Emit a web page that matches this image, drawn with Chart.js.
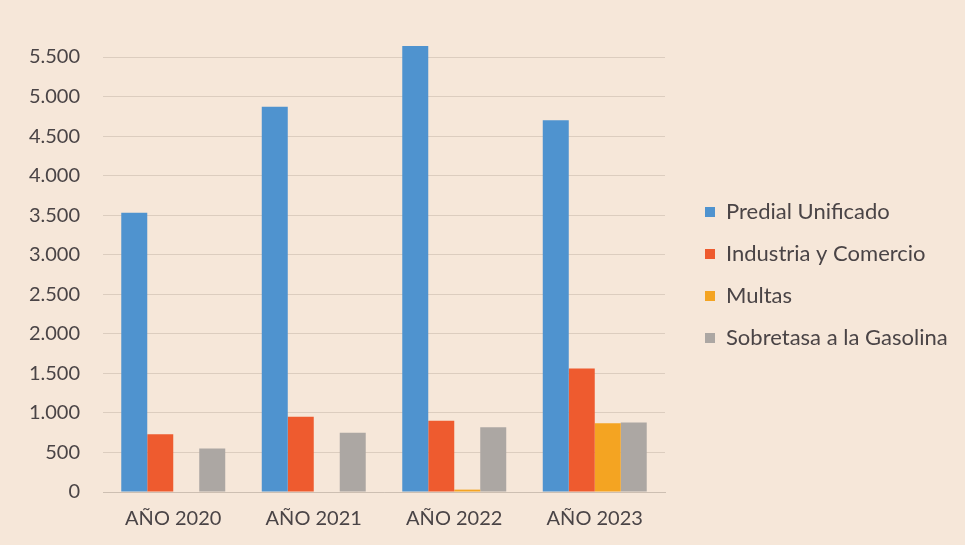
<!DOCTYPE html>
<html>
<head>
<meta charset="utf-8">
<script src="https://cdn.jsdelivr.net/npm/chart.js@4.4.1/dist/chart.umd.min.js"></script>
<style>
  html, body { margin: 0; padding: 0; background: #f6e7d9; }
  #wrap { width: 965px; height: 545px; }
</style>
</head>
<body>
<div id="wrap"><canvas id="chart-recaudo" width="965" height="545"></canvas></div>
<script>
// data (millones)
const categories = ["AÑO 2020", "AÑO 2021", "AÑO 2022", "AÑO 2023"];
const predial = [3530, 4870, 5640, 4700];
const industria = [730, 950, 900, 1560];
const multas = [0, 0, 30, 870];
const sobretasa = [550, 750, 820, 880];
const seriesNames = ["Predial Unificado", "Industria y Comercio", "Multas", "Sobretasa a la Gasolina"];
const yTicks = [0, 500, 1000, 1500, 2000, 2500, 3000, 3500, 4000, 4500, 5000, 5500];

const colors = ["#4f93cf", "#ee5b2f", "#f4a422", "#aca7a3"];
const FONT = "Lato, 'Open Sans', sans-serif";
const TEXT = "#4a4446";

function miles(v) {
    return String(v).replace(/\B(?=(\d{3})+(?!\d))/g, ".");
}

// legend: fixed width box, items moved right of the plot and a bit up
const legendPlace = {
    id: "legendPlace",
    afterInit(chart) {
        const fit = chart.legend.fit;
        chart.legend.fit = function () {
            fit.call(this);
            this.width = 300;
        };
    },
    afterLayout(chart) {
        const lg = chart.legend;
        lg.left += 20;
        lg.top -= 26;
        lg.bottom -= 26;
    }
};

const values = [predial, industria, multas, sobretasa];
const datasets = values.map(function (arr, i) {
    return {
        label: seriesNames[i],
        data: arr,
        backgroundColor: colors[i],
        borderWidth: 0,
        clip: false,
        categoryPercentage: 0.74,
        barPercentage: 1.0
    };
});

new Chart(document.getElementById("chart-recaudo").getContext("2d"), {
    type: "bar",
    data: { labels: categories, datasets: datasets },
    options: {
        responsive: false,
        animation: false,
        layout: { padding: { top: 57, right: 0, bottom: 0, left: 0 } },
        plugins: {
            tooltip: { enabled: false },
            legend: {
                position: "right",
                align: "center",
                labels: {
                    boxWidth: 10,
                    boxHeight: 10,
                    padding: 20,
                    color: TEXT,
                    font: { family: FONT, size: 22 }
                }
            }
        },
        scales: {
            x: {
                grid: { display: false, drawTicks: false },
                border: { display: true, color: "#cdbfb2", width: 1 },
                ticks: { color: TEXT, font: { family: FONT, size: 20 }, padding: 15 },
                afterFit(scale) { scale.height = 53; }
            },
            y: {
                min: 0,
                max: 5500,
                afterBuildTicks(scale) {
                    scale.ticks = yTicks.map(function (v) { return { value: v }; });
                },
                grid: { color: "#dccdbf", lineWidth: 1, drawTicks: false },
                border: { display: false },
                ticks: {
                    color: TEXT,
                    font: { family: FONT, size: 20 },
                    padding: 23,
                    callback: function (value) { return miles(value); }
                },
                afterFit(scale) { scale.width = 103; }
            }
        }
    },
    plugins: [legendPlace]
});
</script>
</body>
</html>
